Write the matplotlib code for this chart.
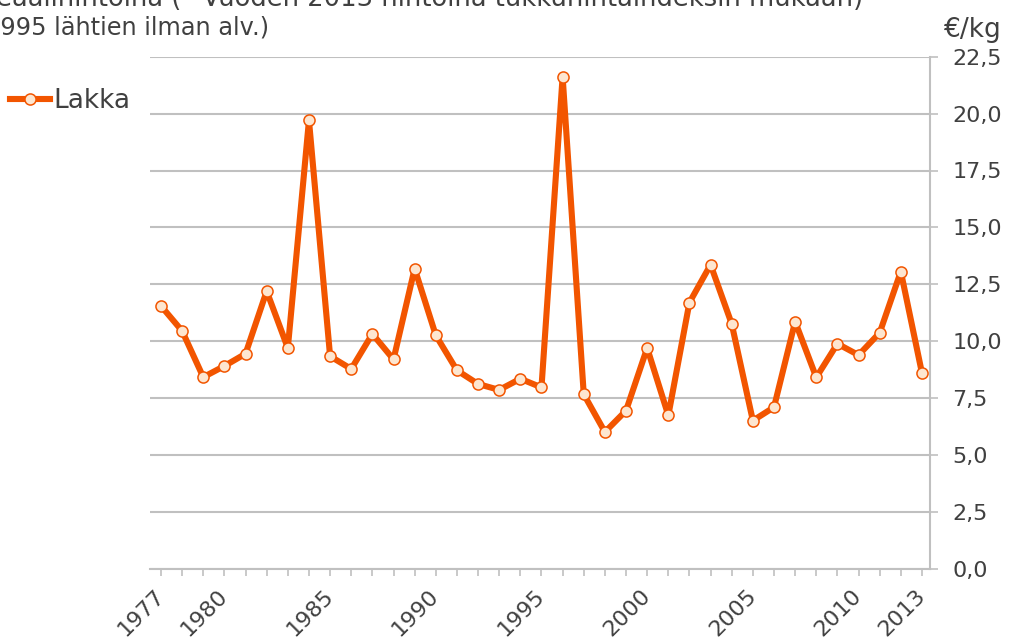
import matplotlib
matplotlib.use("Agg")
import matplotlib.pyplot as plt
from matplotlib.ticker import FuncFormatter

# -----------------------------
# Data
# -----------------------------
years = list(range(1977, 2014))
lakka = [11.55, 10.45, 8.42, 8.91, 9.45, 12.2, 9.70, 19.7, 9.34, 8.78,
         10.32, 9.20, 13.19, 10.26, 8.72, 8.12, 7.86, 8.35, 7.97, 21.62,
         7.67, 6.01, 6.95, 9.70, 6.74, 11.7, 13.36, 10.76, 6.51, 7.10,
         10.86, 8.41, 9.89, 9.39, 10.37, 13.06, 8.60]
labeled_years = [1977, 1980, 1985, 1990, 1995, 2000, 2005, 2010, 2013]
y_ticks = [0, 2.5, 5, 7.5, 10, 12.5, 15, 17.5, 20, 22.5]

title_line1 = "reaalihintoina (* Vuoden 2013 hintoina tukkuhintaindeksin mukaan)"
title_line2 = "1995 lähtien ilman alv.)"
unit_label = "€/kg"
series_name = "Lakka"

# -----------------------------
# Styles
# -----------------------------
line_color = "#F25500"
marker_face = "#FDE6D0"
grid_color = "#C0C0C0"
text_color = "#404040"

plt.rcParams['font.family'] = ['DejaVu Sans']

W, H = 1013, 640
fig = plt.figure(figsize=(W / 100, H / 100), dpi=100)
ax = fig.add_axes([150 / W, 1 - 568.8 / H, 780 / W, (568.8 - 56.7) / H])

ax.plot(years, lakka, color=line_color, linewidth=4.4, marker="o",
        markersize=8, markerfacecolor=marker_face, markeredgecolor=line_color,
        markeredgewidth=1.1, label=series_name, zorder=3)

ax.set_xlim(1976.48, 2013.38)
ax.set_ylim(0, 22.5)

# y-axis on the right
ax.yaxis.tick_right()
ax.set_yticks(y_ticks)
ax.yaxis.set_major_formatter(FuncFormatter(lambda v, p: f"{v:.1f}".replace(".", ",")))
ax.tick_params(axis="y", direction="out", length=6, width=1.2, color=grid_color,
               labelsize=16, labelcolor=text_color, pad=10)
ax.grid(axis="y", color=grid_color, linewidth=1.5)
ax.set_axisbelow(True)

# x-axis: a tick per year, labels only for some
ax.set_xticks(years)
ax.set_xticklabels([str(y) if y in labeled_years else "" for y in years],
                   rotation=45, ha="right", va="center", rotation_mode="anchor")
ax.tick_params(axis="x", direction="out", length=5, width=1.2, color=grid_color,
               labelsize=16, labelcolor=text_color, pad=12)

for side in ["top", "left"]:
    ax.spines[side].set_visible(False)
for side in ["bottom", "right"]:
    ax.spines[side].set_color(grid_color)
    ax.spines[side].set_linewidth(1.5)

# Title (cut off at top-left as in the original) and unit
fig.text(863 / W, 1 - 6 / H, title_line1, ha="right", va="baseline",
         fontsize=18.5, color=text_color)
fig.text(-15 / W, 1 - 35 / H, title_line2, ha="left", va="baseline",
         fontsize=17.3, color=text_color)
fig.text(944 / W, 1 - 37 / H, unit_label, ha="left", va="baseline",
         fontsize=19, color=text_color)

# Legend on the left
fig.legend(loc="center left", bbox_to_anchor=(10 / W, 1 - 101 / H), frameon=False,
           fontsize=19, handlelength=1.5, handletextpad=0.15, borderpad=0,
           borderaxespad=0, labelcolor=text_color)

fig.savefig("out.png", dpi=100)
